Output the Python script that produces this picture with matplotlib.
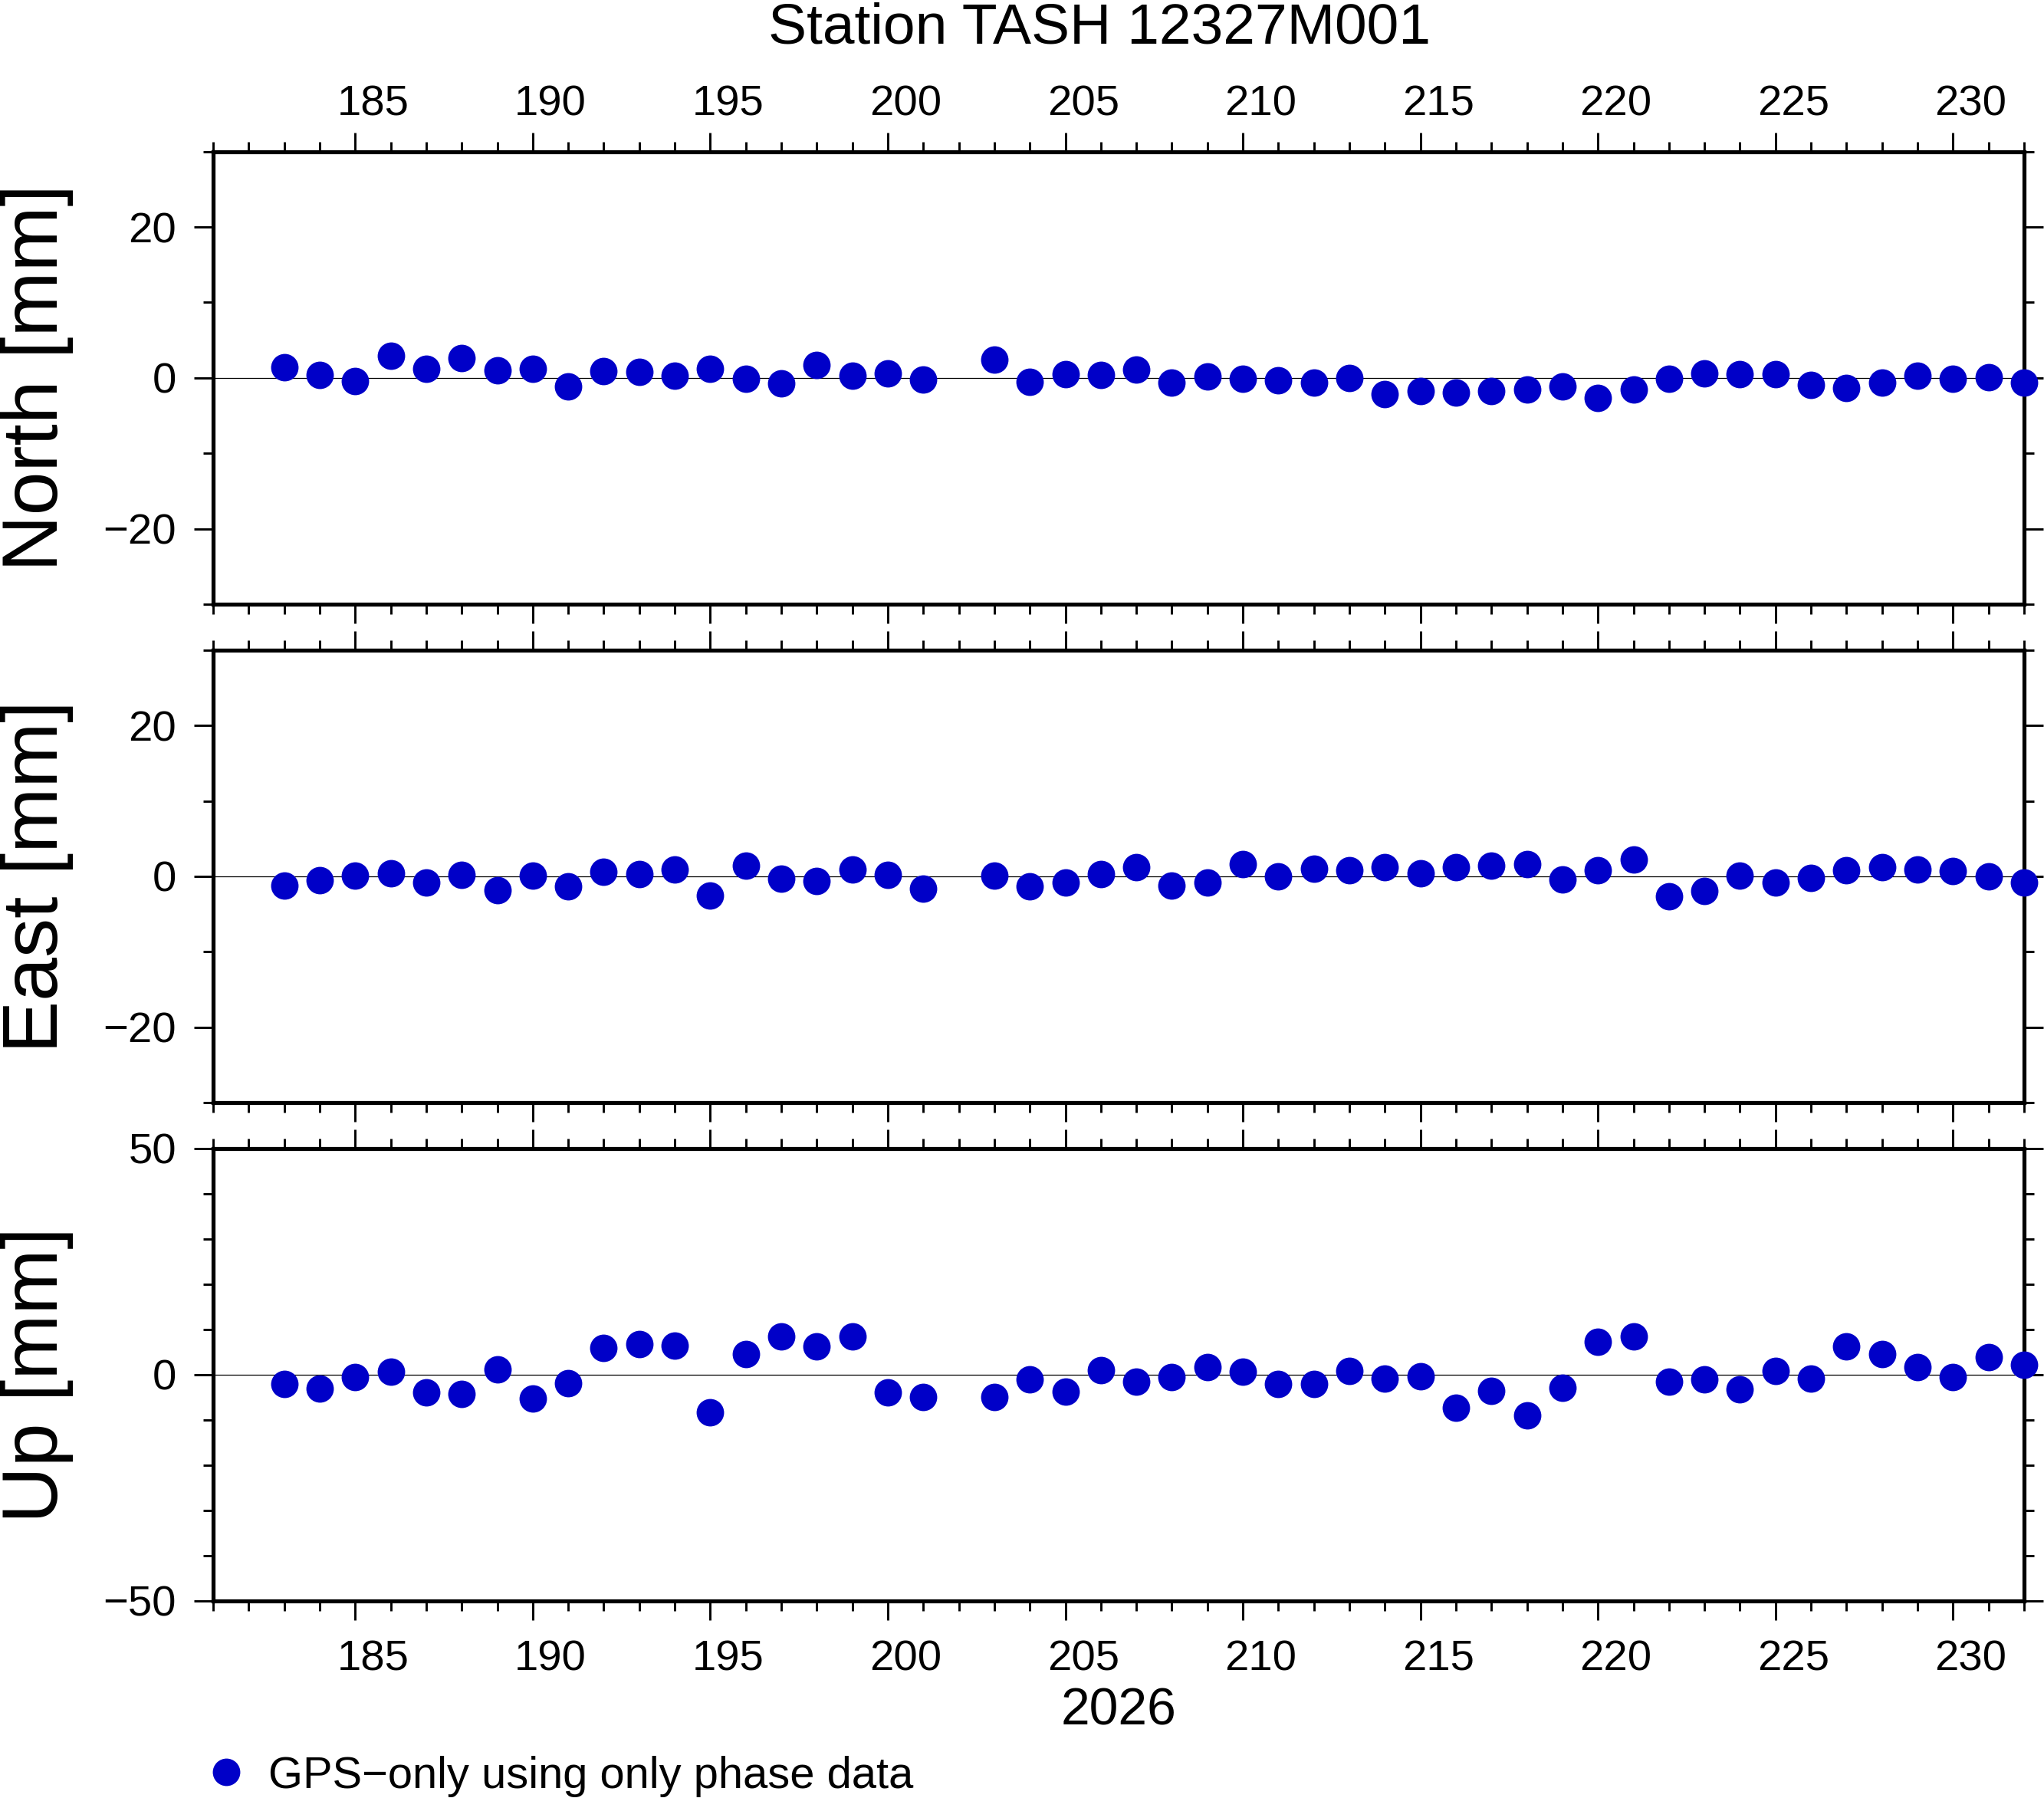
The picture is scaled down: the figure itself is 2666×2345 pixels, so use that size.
import numpy as np
import matplotlib
matplotlib.use('Agg')
import matplotlib.pyplot as plt
from matplotlib.ticker import MultipleLocator
from matplotlib.lines import Line2D

plt.rcParams['font.family'] = ['Liberation Sans', 'DejaVu Sans']

# day of year 2026 (no solution on day 202)
days = [183, 184, 185, 186, 187, 188, 189, 190, 191, 192, 193, 194, 195, 196,
        197, 198, 199, 200, 201, 203, 204, 205, 206, 207, 208, 209, 210, 211,
        212, 213, 214, 215, 216, 217, 218, 219, 220, 221, 222, 223, 224, 225,
        226, 227, 228, 229, 230, 231, 232]

north = [1.4, 0.4, -0.4, 2.9, 1.2, 2.6, 1.0, 1.2, -1.1, 0.9, 0.8, 0.3, 1.2,
         -0.1, -0.7, 1.7, 0.3, 0.6, -0.2, 2.4, -0.5, 0.5, 0.4, 1.1, -0.6, 0.2,
         -0.1, -0.3, -0.6, 0.0, -2.1, -1.7, -1.9, -1.7, -1.5, -1.1, -2.7, -1.5,
         -0.1, 0.6, 0.5, 0.5, -0.9, -1.3, -0.6, 0.3, -0.1, 0.1, -0.6]

east = [-1.2, -0.5, 0.1, 0.4, -0.8, 0.2, -1.8, 0.1, -1.3, 0.6, 0.3, 0.9, -2.5,
        1.4, -0.3, -0.6, 0.9, 0.2, -1.6, 0.1, -1.3, -0.8, 0.3, 1.2, -1.2, -0.8,
        1.6, 0.0, 1.0, 0.8, 1.2, 0.4, 1.2, 1.4, 1.6, -0.4, 0.8, 2.2, -2.6, -1.9,
        0.1, -0.8, -0.2, 0.8, 1.2, 0.9, 0.7, 0.0, -0.8]

up = [-2.1, -3.0, -0.6, 0.6, -4.0, -4.2, 1.2, -5.3, -1.9, 5.9, 6.8, 6.4, -8.4,
      4.5, 8.5, 6.3, 8.5, -4.0, -4.9, -5.0, -1.1, -3.7, 1.0, -1.5, -0.6, 1.6,
      0.6, -2.1, -2.1, 0.9, -0.8, -0.3, -7.3, -3.5, -9.0, -2.9, 7.2, 8.5, -1.6,
      -1.1, -3.3, 0.9, -0.9, 6.2, 4.6, 1.6, -0.6, 3.8, 2.2]

label_days = [185, 190, 195, 200, 205, 210, 215, 220, 225, 230]

panels = [
    ('North [mm]', north, (-30, 30), 20),
    ('East [mm]', east, (-30, 30), 20),
    ('Up [mm]', up, (-50, 50), 50),
]

blue = '#0000c8'
W, H = 2666, 2345
fig = plt.figure(figsize=(W / 300, H / 300), dpi=300)

left = 278 / W
width = (2640 - 278) / W
tops = [197.7, 847.8, 1497.7]
ph = 590.3

for i, (name, vals, ylim, ymaj) in enumerate(panels):
    top = tops[i]
    ax = fig.add_axes([left, 1 - (top + ph) / H, width, ph / H])
    ax.axhline(0, color='black', lw=0.3, zorder=1)
    ax.plot(days, vals, ls='none', marker='o', ms=8.6, color=blue,
            mec='none', clip_on=False, zorder=3)
    ax.set_xlim(181, 232)
    ax.set_ylim(ylim)
    ax.xaxis.set_major_locator(MultipleLocator(5))
    ax.xaxis.set_minor_locator(MultipleLocator(1))
    ax.yaxis.set_major_locator(MultipleLocator(ymaj))
    ax.yaxis.set_minor_locator(MultipleLocator(10))
    ax.tick_params(which='both', direction='out', top=True, right=True,
                   labelbottom=False, labeltop=False, width=0.7,
                   labelsize=13.5, pad=5.6)
    ax.tick_params(which='major', length=5.9)
    ax.tick_params(which='minor', length=3.1)
    for sp in ax.spines.values():
        sp.set_linewidth(1.25)

    fig.text(75 / W, 1 - (top + ph / 2) / H, name, rotation=90,
             rotation_mode='anchor', ha='center', va='baseline', fontsize=24.5)

    if i == 0:
        sec = ax.secondary_xaxis('top', functions=(lambda x: x - 0.5, lambda x: x + 0.5))
        sec.set_xticks(label_days)
        sec.tick_params(length=0, labelsize=13.5, pad=8.5)
    if i == 2:
        sec = ax.secondary_xaxis('bottom', functions=(lambda x: x - 0.5, lambda x: x + 0.5))
        sec.set_xticks(label_days)
        sec.tick_params(length=0, labelsize=13.5, pad=12.1)
    if i in (0, 2):
        for sp in sec.spines.values():
            sp.set_visible(False)

fig.text(1434 / W, 1 - 56.5 / H, 'Station TASH 12327M001', ha='center',
         va='baseline', fontsize=18)
fig.text(1459.5 / W, 1 - 2250 / H, '2026', ha='center', va='baseline', fontsize=16.3)

handle = Line2D([], [], ls='none', marker='o', ms=8.6, color=blue, mec='none')
fig.legend(handles=[handle], labels=['GPS\u2212only using only phase data'],
           loc='center left', bbox_to_anchor=(277.5 / W, 1 - 2316.5 / H),
           frameon=False, borderpad=0, borderaxespad=0, handlelength=0.6,
           handletextpad=0.66, fontsize=13.9, numpoints=1)

fig.savefig('out.png', dpi=300)
